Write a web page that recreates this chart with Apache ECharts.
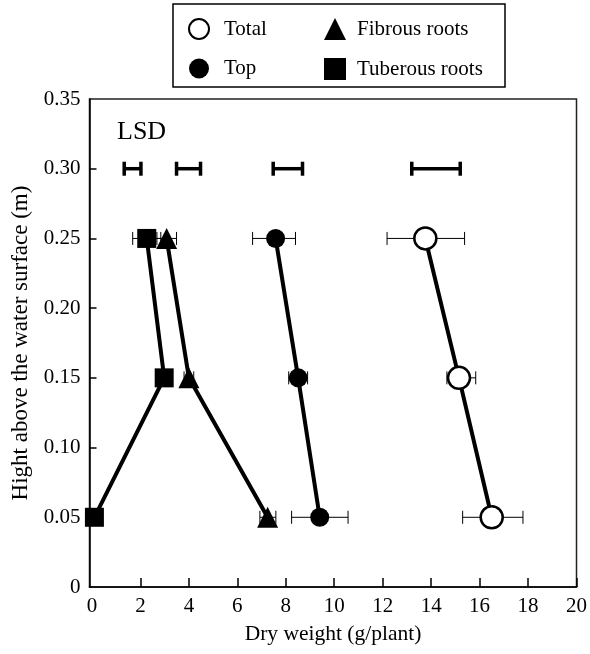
<!DOCTYPE html>
<html>
<head>
<meta charset="utf-8">
<script src="https://cdn.jsdelivr.net/npm/echarts@6/dist/echarts.min.js"></script>
<style>
  html, body { margin: 0; padding: 0; background: #fff; }
  #chart { width: 590px; height: 654px; }
</style>
</head>
<body>
<div id="chart"></div>
<script>
// heights above water surface (m)
var heights = [0.25, 0.15, 0.05];

// dry weight (g/plant) per part
var total = [13.76, 15.15, 16.5];
var top_ = [7.58, 8.51, 9.4];
var fibrous = [3.08, 4.0, 7.25];
var tuberous = [2.26, 2.98, 0.1];

// error bar ends (low, high)
var totalErr = [[12.18, 15.38], [14.65, 15.84], [15.3, 17.79]];
var topErr = [[6.63, 8.4], [8.12, 8.9], [8.24, 10.57]];
var fibrousErr = [[2.68, 3.49], [3.8, 4.2], [6.93, 7.59]];
var tuberousErr = [[1.68, 2.84], [2.78, 3.18], [0.0, 0.3]];

// LSD bars at 0.30
var lsdY = 0.30;
var lsdBars = [[1.33, 2.02], [3.49, 4.48], [7.48, 8.69], [13.2, 15.2]];

// axis ticks
var xTicks = [0, 2, 4, 6, 8, 10, 12, 14, 16, 18, 20];
var yTicks = [0, 0.05, 0.10, 0.15, 0.20, 0.25, 0.30, 0.35];

var font = 'Liberation Serif, Times New Roman, serif';

function pts(xs) {
  return xs.map(function (x, i) { return [x, heights[i]]; });
}
function errData(e) {
  return e.map(function (r, i) { return [r[0], r[1], heights[i]]; });
}

function barRender(lw, cap, capW) {
  return function (params, api) {
    var a = api.coord([api.value(0), api.value(2)]);
    var b = api.coord([api.value(1), api.value(2)]);
    var st = { stroke: '#000', lineWidth: lw };
    var cs = { stroke: '#000', lineWidth: capW };
    return {
      type: 'group',
      children: [
        { type: 'line', shape: { x1: a[0], y1: a[1], x2: b[0], y2: b[1] }, style: st },
        { type: 'line', shape: { x1: a[0], y1: a[1] - cap, x2: a[0], y2: a[1] + cap }, style: cs },
        { type: 'line', shape: { x1: b[0], y1: b[1] - cap, x2: b[0], y2: b[1] + cap }, style: cs }
      ]
    };
  };
}

function errSeries(e) {
  return {
    type: 'custom',
    renderItem: barRender(1, 6.5, 1),
    data: errData(e),
    z: 1,
    silent: true
  };
}

function lineSeries(name, xs, symbol, size, itemStyle) {
  return {
    name: name,
    type: 'line',
    data: pts(xs),
    symbol: symbol,
    symbolSize: size,
    showAllSymbol: true,
    lineStyle: { color: '#000', width: 4 },
    itemStyle: itemStyle,
    z: 3
  };
}

var chart = echarts.init(document.getElementById('chart'));

var option = {
  backgroundColor: '#fff',
  animation: false,
  textStyle: { fontFamily: font, color: '#000' },
  grid: {
    left: 89.5, right: 13, top: 99, bottom: 67,
    show: true, borderColor: '#222', borderWidth: 1.5, backgroundColor: 'transparent'
  },
  legend: [
    {
      orient: 'vertical',
      left: 183, top: 13,
      itemGap: 18,
      itemWidth: 20, itemHeight: 20,
      textStyle: { fontFamily: font, fontSize: 21, color: '#000', padding: [0, 0, 0, 10] },
      data: [{ name: 'Total', icon: 'circle' }, { name: 'Top', icon: 'circle' }]
    },
    {
      orient: 'vertical',
      left: 319, top: 13,
      itemGap: 18,
      itemWidth: 22, itemHeight: 22,
      textStyle: { fontFamily: font, fontSize: 21, color: '#000', padding: [0, 0, 0, 6] },
      data: [{ name: 'Fibrous roots', icon: 'triangle' }, { name: 'Tuberous roots', icon: 'rect' }]
    }
  ],
  graphic: [
    {
      type: 'rect',
      shape: { x: 173, y: 4, width: 332, height: 83 },
      style: { fill: 'none', stroke: '#000', lineWidth: 1.5 }
    },
    {
      type: 'text',
      left: 117, top: 119,
      style: { text: 'LSD', font: '26px ' + font, fill: '#000' }
    }
  ],
  xAxis: {
    type: 'value',
    min: -0.103, max: 20,
    name: 'Dry weight (g/plant)',
    nameLocation: 'middle',
    nameGap: 36,
    nameTextStyle: { fontFamily: font, fontSize: 21.5, color: '#000' },
    axisLine: { onZero: false, lineStyle: { color: '#000', width: 1.5 } },
    axisTick: {
      inside: true, length: 9, lineStyle: { color: '#000', width: 1.5 },
      customValues: xTicks.slice(1)
    },
    axisLabel: {
      fontFamily: font, fontSize: 21, color: '#000', margin: 9,
      customValues: xTicks
    },
    splitLine: { show: false }
  },
  yAxis: {
    type: 'value',
    min: 0, max: 0.35,
    name: 'Hight above the water surface (m)',
    nameLocation: 'middle',
    nameGap: 56,
    nameTextStyle: { fontFamily: font, fontSize: 23, color: '#000' },
    axisLine: { onZero: false, lineStyle: { color: '#000', width: 1.5 } },
    axisTick: {
      inside: true, length: 7, lineStyle: { color: '#000', width: 1.5 },
      customValues: yTicks.slice(1, -1)
    },
    axisLabel: {
      fontFamily: font, fontSize: 21, color: '#000', margin: 9,
      customValues: yTicks,
      formatter: function (v) { return v === 0 ? '0' : v.toFixed(2); }
    },
    splitLine: { show: false }
  },
  series: [
    errSeries(totalErr),
    errSeries(topErr),
    errSeries(fibrousErr),
    errSeries(tuberousErr),
    {
      type: 'custom',
      renderItem: barRender(3.5, 7, 3.5),
      data: lsdBars.map(function (r) { return [r[0], r[1], lsdY]; }),
      z: 2,
      silent: true
    },
    lineSeries('Total', total, 'circle', 22, { color: '#fff', borderColor: '#000', borderWidth: 2.5 }),
    lineSeries('Top', top_, 'circle', 19, { color: '#000', borderColor: '#000', borderWidth: 0 }),
    lineSeries('Fibrous roots', fibrous, 'triangle', 21, { color: '#000', borderWidth: 0 }),
    lineSeries('Tuberous roots', tuberous, 'rect', 19, { color: '#000', borderWidth: 0 })
  ]
};

chart.setOption(option);
</script>
</body>
</html>
